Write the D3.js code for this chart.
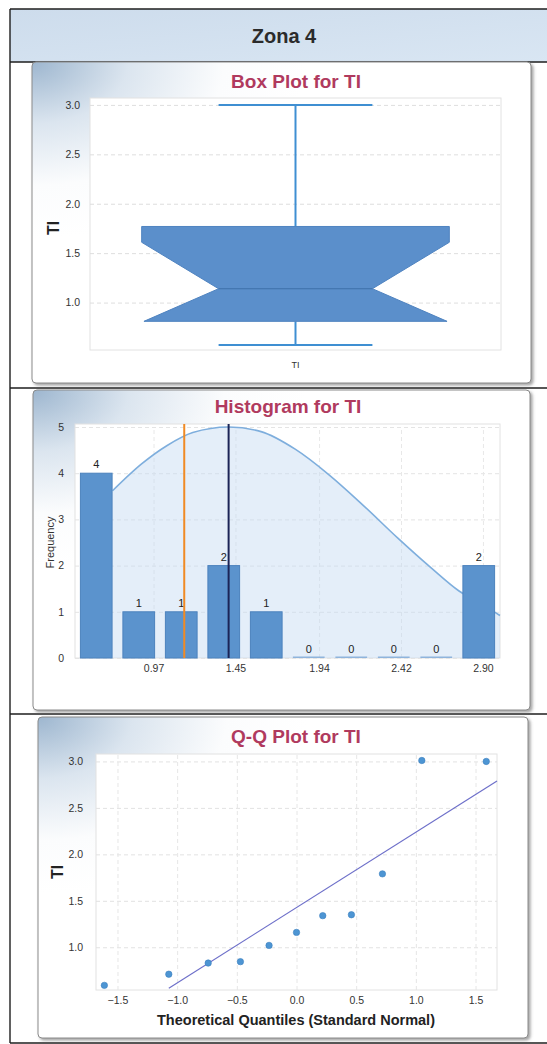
<!DOCTYPE html>
<html><head><meta charset="utf-8">
<script src="https://cdn.jsdelivr.net/npm/d3@7"></script>
<style>
body{margin:0;background:#fff}
svg{display:block}
text{font-family:"Liberation Sans",Arial,sans-serif}
</style>
</head><body>
<svg id="c" width="547" height="1044"></svg>
<script>
// ---------- data ----------
const pageTitle = "Zona 4";
const varName = "TI";
const boxTitle = "Box Plot for TI";
const histTitle = "Histogram for TI";
const qqTitle = "Q-Q Plot for TI";
const qqXLabel = "Theoretical Quantiles (Standard Normal)";
const histYLabel = "Frequency";

// box plot: min, q1, median, q3, max, lower notch, upper notch
const boxNames  = ["min","q1","median","q3","max","notchLow","notchHigh"];
const boxValues = [0.57, 0.81, 1.14, 1.77, 3.0, 0.80, 1.61];
const boxYTicks = [1.0, 1.5, 2.0, 2.5, 3.0];

// histogram
const histBinEdges = [0.51, 0.759, 1.008, 1.257, 1.506, 1.755, 2.004, 2.253, 2.502, 2.751, 3.0];
const histCounts   = [4, 1, 1, 2, 1, 0, 0, 0, 0, 2];
const histXTicks   = [0.97, 1.45, 1.94, 2.42, 2.90];
const histYTicks   = [0, 1, 2, 3, 4, 5];
const histMedian   = 1.15;
const histMean     = 1.41;
const curveX = [0.73, 0.90, 1.05, 1.20, 1.41, 1.60, 1.80, 2.00, 2.20, 2.40, 2.60, 2.76, 2.90, 3.00];
const curveY = [3.62, 4.20, 4.60, 4.88, 5.00, 4.90, 4.52, 3.96, 3.30, 2.60, 1.94, 1.45, 1.15, 0.92];

// Q-Q plot
const qqTheoretical = [-1.61, -1.07, -0.74, -0.47, -0.23, 0.0, 0.22, 0.46, 0.72, 1.05, 1.59];
const qqSample      = [0.59, 0.71, 0.83, 0.845, 1.02, 1.16, 1.34, 1.35, 1.79, 3.01, 3.0];
const qqLineX = [-1.07, 1.68];
const qqLineY = [0.56, 2.79];
const qqXTicks = [-1.5, -1.0, -0.5, 0.0, 0.5, 1.0, 1.5];
const qqYTicks = [1.0, 1.5, 2.0, 2.5, 3.0];

// ---------- drawing ----------
const svg = d3.select("#c");
const defs = svg.append("defs");
const rg = defs.append("radialGradient").attr("id","cardBg")
  .attr("cx",0).attr("cy",0).attr("r",0.55).attr("fx",0).attr("fy",0);
rg.append("stop").attr("offset","0%").attr("stop-color","#9db6cf");
rg.append("stop").attr("offset","35%").attr("stop-color","#dbe5ef");
rg.append("stop").attr("offset","70%").attr("stop-color","#fbfcfd");
rg.append("stop").attr("offset","100%").attr("stop-color","#ffffff");
const hg = defs.append("linearGradient").attr("id","hdrBg").attr("x1",0).attr("x2",1).attr("y1",0).attr("y2",1);
hg.append("stop").attr("offset","0%").attr("stop-color","#cddcec");
hg.append("stop").attr("offset","100%").attr("stop-color","#d9e6f3");
const sh = defs.append("filter").attr("id","shadow").attr("x","-5%").attr("y","-5%").attr("width","115%").attr("height","115%");
sh.append("feDropShadow").attr("dx",2).attr("dy",2).attr("stdDeviation",1.5).attr("flood-color","#666").attr("flood-opacity",0.6);

// table
svg.append("rect").attr("x",10).attr("y",9).attr("width",560).attr("height",53).attr("fill","url(#hdrBg)");
svg.append("text").attr("x",284).attr("y",43).attr("text-anchor","middle")
  .attr("font-size",20).attr("font-weight","bold").attr("fill","#2b2b2b").text(pageTitle);
const tl = svg.append("g").attr("stroke","#1e1e1e").attr("stroke-width",1.4);
[9, 62, 388, 714, 1043].forEach(y => tl.append("line").attr("x1",10).attr("x2",547).attr("y1",y).attr("y2",y));
tl.append("line").attr("x1",10).attr("x2",10).attr("y1",9).attr("y2",1043);

function card(x,y,w,h){
  svg.append("rect").attr("x",x).attr("y",y).attr("width",w).attr("height",h).attr("rx",4)
    .attr("fill","url(#cardBg)").attr("stroke","#8a8a8a").attr("stroke-width",1).attr("filter","url(#shadow)");
}
const titleColor = "#b03a5e";
function title(x,y,t){
  svg.append("text").attr("x",x).attr("y",y).attr("text-anchor","middle")
    .attr("font-size",19).attr("font-weight","bold").attr("fill",titleColor).text(t);
}
function plotBg(x0,y0,x1,y1){
  svg.append("rect").attr("x",x0).attr("y",y0).attr("width",x1-x0).attr("height",y1-y0)
    .attr("fill","#fff").attr("stroke","#e2e2e2").attr("stroke-width",1);
}
const tickFont = 10.5;

// ===== Box plot =====
card(32,62,499,321);
title(296,88,boxTitle);
const bx0=90, bx1=501, by0=98, by1=350;
plotBg(bx0,by0,bx1,by1);
const byS = d3.scaleLinear().domain([0.52,3.07]).range([by1,by0]);
const bxS = d3.scaleBand().domain([varName]).range([bx0,bx1]).paddingOuter(0.168);
svg.append("g").attr("transform",`translate(${bx0},0)`)
  .call(d3.axisLeft(byS).tickValues(boxYTicks).tickSize(-(bx1-bx0)).tickFormat(""))
  .call(g=>g.select(".domain").remove())
  .call(g=>g.selectAll("line").attr("stroke","#dedede").attr("stroke-dasharray","4,3"));
svg.append("g").attr("transform",`translate(${bx0-7},0)`)
  .call(d3.axisLeft(byS).tickValues(boxYTicks).tickSize(0).tickFormat(d3.format(".1f")))
  .call(g=>g.select(".domain").remove())
  .call(g=>g.selectAll("text").attr("font-size",tickFont).attr("fill","#333").attr("font-family","Liberation Sans Narrow, Liberation Sans, Arial"));
svg.append("text").attr("transform",`translate(59,${(by0+by1)/2+4}) rotate(-90)`).attr("text-anchor","middle")
  .attr("font-size",16).attr("font-weight","bold").attr("fill","#222").text(varName);
svg.append("text").attr("x",bxS(varName)+bxS.bandwidth()/2).attr("y",368).attr("text-anchor","middle")
  .attr("font-size",9).attr("fill","#333").text(varName);
{
  const [vmin,q1,med,q3,vmax,nLo,nHi] = boxValues;
  const L = bxS(varName), W = bxS.bandwidth(), R = L+W, cx = L+W/2;
  const inset = W/4;
  const li = Math.max(0, inset*(1-(med-q1)/(med-nLo)));
  const blue = "#3f8fd2";
  const wk = svg.append("g").attr("stroke",blue).attr("stroke-width",2);
  wk.append("line").attr("x1",cx).attr("x2",cx).attr("y1",byS(vmax)).attr("y2",byS(q3));
  wk.append("line").attr("x1",cx).attr("x2",cx).attr("y1",byS(q1)).attr("y2",byS(vmin));
  wk.append("line").attr("x1",cx-inset).attr("x2",cx+inset).attr("y1",byS(vmax)).attr("y2",byS(vmax));
  wk.append("line").attr("x1",cx-inset).attr("x2",cx+inset).attr("y1",byS(vmin)).attr("y2",byS(vmin));
  const pts = [[L,byS(q3)],[R,byS(q3)],[R,byS(nHi)],[R-inset,byS(med)],[R-li,byS(q1)],
               [L+li,byS(q1)],[L+inset,byS(med)],[L,byS(nHi)]];
  svg.append("path").attr("d",d3.line()(pts)+"Z").attr("fill","#5b8fcb").attr("stroke","#4f83c0").attr("stroke-width",1);
  svg.append("line").attr("x1",L+inset).attr("x2",R-inset).attr("y1",byS(med)).attr("y2",byS(med))
    .attr("stroke","#3d6fa8").attr("stroke-width",1.2);
}

// ===== Histogram =====
card(33,390,497,320);
title(288,413,histTitle);
const hx0=75, hx1=500, hy0=427, hy1=658;
plotBg(hx0,hy0-3,hx1,hy1);
const hxS = d3.scaleLinear().domain([0.51,3.0]).range([hx0,hx1]);
const hyS = d3.scaleLinear().domain([0,5]).range([hy1,hy0]);
svg.append("g").attr("transform",`translate(${hx0},0)`)
  .call(d3.axisLeft(hyS).tickValues(histYTicks).tickSize(-(hx1-hx0)).tickFormat(""))
  .call(g=>g.select(".domain").remove())
  .call(g=>g.selectAll("line").attr("stroke","#e4e4e4").attr("stroke-dasharray","4,3"));
svg.append("g").attr("transform",`translate(0,${hy1})`)
  .call(d3.axisBottom(hxS).tickValues(histXTicks).tickSize(-(hy1-hy0)).tickFormat(""))
  .call(g=>g.select(".domain").remove())
  .call(g=>g.selectAll("line").attr("stroke","#e8e8e8").attr("stroke-dasharray","4,3"));
const curvePts = curveX.map((x,i)=>[x,curveY[i]]);
svg.append("path").datum(curvePts)
  .attr("d", d3.area().x(d=>hxS(d[0])).y0(hy1).y1(d=>hyS(d[1])).curve(d3.curveMonotoneX))
  .attr("fill","#c4daf1").attr("fill-opacity",0.45);
svg.append("path").datum(curvePts)
  .attr("d", d3.line().x(d=>hxS(d[0])).y(d=>hyS(d[1])).curve(d3.curveMonotoneX))
  .attr("fill","none").attr("stroke","#7eaedd").attr("stroke-width",1.6);
const bins = histCounts.map((c,i)=>({x0:histBinEdges[i], x1:histBinEdges[i+1], c}));
const pad = 5.4;
svg.append("g").selectAll("rect").data(bins).join("rect")
  .attr("x",d=>hxS(d.x0)+pad).attr("width",d=>hxS(d.x1)-hxS(d.x0)-2*pad)
  .attr("y",d=> d.c>0 ? hyS(d.c) : hy1-1.5).attr("height",d=> d.c>0 ? hy1-hyS(d.c) : 1.5)
  .attr("fill",d=> d.c>0 ? "#5b93cd" : "#8fb4dc").attr("stroke",d=>d.c>0?"#4c82bd":"none").attr("stroke-width",1);
svg.append("g").selectAll("text").data(bins).join("text")
  .attr("x",d=>(hxS(d.x0)+hxS(d.x1))/2).attr("y",d=>hyS(d.c)-5).attr("text-anchor","middle")
  .attr("font-size",11).attr("fill","#222").text(d=>d.c);
svg.append("line").attr("x1",hxS(histMedian)).attr("x2",hxS(histMedian)).attr("y1",hy0-3).attr("y2",hy1)
  .attr("stroke","#f08a24").attr("stroke-width",2);
svg.append("line").attr("x1",hxS(histMean)).attr("x2",hxS(histMean)).attr("y1",hy0-3).attr("y2",hy1)
  .attr("stroke","#1b2456").attr("stroke-width",2);
svg.append("g").attr("transform",`translate(${hx0-8},0)`)
  .call(d3.axisLeft(hyS).tickValues(histYTicks).tickSize(0).tickFormat(d3.format("d")))
  .call(g=>g.select(".domain").remove())
  .call(g=>g.selectAll("text").attr("font-size",tickFont).attr("fill","#333"));
svg.append("g").attr("transform",`translate(0,${hy1+4})`)
  .call(d3.axisBottom(hxS).tickValues(histXTicks).tickSize(0).tickFormat(d3.format(".2f")))
  .call(g=>g.select(".domain").remove())
  .call(g=>g.selectAll("text").attr("font-size",tickFont).attr("fill","#333").attr("font-family","Liberation Sans Narrow, Liberation Sans, Arial"));
svg.append("text").attr("transform",`translate(54,${(hy0+hy1)/2}) rotate(-90)`).attr("text-anchor","middle")
  .attr("font-size",11).attr("fill","#333").text(histYLabel);

// ===== Q-Q plot =====
card(38,717,490,321);
title(296,743,qqTitle);
const qx0=96, qx1=497, qy0=754, qy1=990;
plotBg(qx0,qy0,qx1,qy1);
const qxS = d3.scaleLinear().domain([-1.68,1.68]).range([qx0,qx1]);
const qyS = d3.scaleLinear().domain([0.54,3.08]).range([qy1,qy0]);
svg.append("g").attr("transform",`translate(${qx0},0)`)
  .call(d3.axisLeft(qyS).tickValues(qqYTicks).tickSize(-(qx1-qx0)).tickFormat(""))
  .call(g=>g.select(".domain").remove())
  .call(g=>g.selectAll("line").attr("stroke","#e2e2e2").attr("stroke-dasharray","4,3"));
svg.append("g").attr("transform",`translate(0,${qy1})`)
  .call(d3.axisBottom(qxS).tickValues(qqXTicks).tickSize(-(qy1-qy0)).tickFormat(""))
  .call(g=>g.select(".domain").remove())
  .call(g=>g.selectAll("line").attr("stroke","#e6e6e6").attr("stroke-dasharray","4,3"));
svg.append("g").attr("transform",`translate(${qx0-10},0)`)
  .call(d3.axisLeft(qyS).tickValues(qqYTicks).tickSize(0).tickFormat(d3.format(".1f")))
  .call(g=>g.select(".domain").remove())
  .call(g=>g.selectAll("text").attr("font-size",tickFont).attr("fill","#333"));
svg.append("g").attr("transform",`translate(0,${qy1+4})`)
  .call(d3.axisBottom(qxS).tickValues(qqXTicks).tickSize(0).tickFormat(d3.format(".1f")))
  .call(g=>g.select(".domain").remove())
  .call(g=>g.selectAll("text").attr("font-size",tickFont).attr("fill","#333"));
svg.append("text").attr("x",296).attr("y",1025).attr("text-anchor","middle")
  .attr("font-size",14.5).attr("font-weight","bold").attr("fill","#222").text(qqXLabel);
svg.append("text").attr("transform",`translate(63,${(qy0+qy1)/2}) rotate(-90)`).attr("text-anchor","middle")
  .attr("font-size",16).attr("font-weight","bold").attr("fill","#222").text(varName);
svg.append("line").attr("x1",qxS(qqLineX[0])).attr("y1",qyS(qqLineY[0])).attr("x2",qxS(qqLineX[1])).attr("y2",qyS(qqLineY[1]))
  .attr("stroke","#6d6fc9").attr("stroke-width",1.2);
svg.append("g").selectAll("circle").data(qqTheoretical).join("circle")
  .attr("cx",d=>qxS(d)).attr("cy",(d,i)=>qyS(qqSample[i])).attr("r",3.2)
  .attr("fill","#4d95d3").attr("stroke","#3b7fbf").attr("stroke-width",0.6);
</script>
</body></html>
